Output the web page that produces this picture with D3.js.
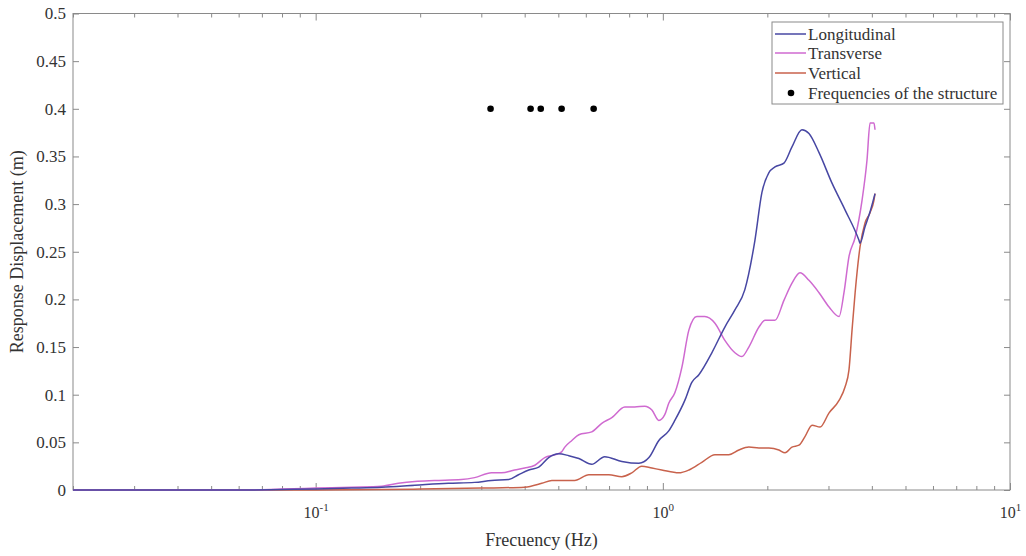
<!DOCTYPE html>
<html>
<head>
<meta charset="utf-8">
<script src="https://cdn.jsdelivr.net/npm/d3@7"></script>
<style>
  html, body { margin: 0; padding: 0; background: #fff; }
  svg text { font-family: "Liberation Serif", "Times New Roman", serif; fill: #333; }
</style>
</head>
<body>
<svg id="chart" width="1026" height="556"></svg>
<script>
// Frequency (Hz) sample points and response displacement (m) for each direction
const longFreq = [0.02, 0.06, 0.08, 0.1, 0.127, 0.155, 0.193, 0.241, 0.287, 0.321, 0.36, 0.384, 0.411, 0.439, 0.469, 0.501, 0.536, 0.573, 0.624, 0.68, 0.762, 0.853, 0.912, 0.974, 1.04, 1.083, 1.157, 1.212, 1.27, 1.384, 1.509, 1.613, 1.722, 1.842, 1.929, 2.021, 2.104, 2.233, 2.355, 2.516, 2.636, 2.818, 3.071, 3.348, 3.673, 3.698, 3.821, 3.953, 4.085];
const longVal  = [0, 0, 0.0005, 0.001, 0.002, 0.003, 0.005, 0.007, 0.008, 0.010, 0.011, 0.016, 0.021, 0.024, 0.034, 0.038, 0.036, 0.033, 0.027, 0.035, 0.030, 0.028, 0.034, 0.052, 0.062, 0.073, 0.094, 0.113, 0.121, 0.144, 0.171, 0.189, 0.21, 0.262, 0.312, 0.333, 0.339, 0.343, 0.36, 0.378, 0.374, 0.354, 0.322, 0.294, 0.262, 0.259, 0.276, 0.292, 0.311];

const transFreq = [0.02, 0.06, 0.08, 0.1, 0.127, 0.155, 0.173, 0.193, 0.22, 0.263, 0.287, 0.321, 0.343, 0.374, 0.40, 0.428, 0.457, 0.489, 0.511, 0.522, 0.547, 0.573, 0.624, 0.667, 0.713, 0.777, 0.83, 0.887, 0.93, 0.974, 1.013, 1.04, 1.083, 1.135, 1.189, 1.253, 1.321, 1.413, 1.509, 1.613, 1.689, 1.769, 1.892, 1.968, 2.104, 2.233, 2.355, 2.483, 2.636, 2.818, 3.012, 3.218, 3.325, 3.437, 3.58, 3.748, 3.873, 3.953, 4.056, 4.085];
const transVal  = [0, 0, 0.001, 0.002, 0.003, 0.004, 0.007, 0.009, 0.010, 0.011, 0.013, 0.018, 0.018, 0.021, 0.023, 0.026, 0.034, 0.037, 0.040, 0.045, 0.052, 0.058, 0.061, 0.070, 0.076, 0.087, 0.087, 0.088, 0.084, 0.073, 0.079, 0.091, 0.102, 0.129, 0.168, 0.182, 0.182, 0.175, 0.157, 0.144, 0.140, 0.150, 0.171, 0.178, 0.178, 0.199, 0.217, 0.228, 0.220, 0.207, 0.192, 0.182, 0.207, 0.245, 0.265, 0.304, 0.346, 0.385, 0.385, 0.378];

const vertFreq = [0.02, 0.1, 0.2, 0.3, 0.4, 0.448, 0.479, 0.511, 0.557, 0.612, 0.699, 0.762, 0.814, 0.869, 0.93, 0.993, 1.112, 1.189, 1.295, 1.413, 1.549, 1.656, 1.769, 1.892, 2.021, 2.159, 2.249, 2.355, 2.467, 2.567, 2.691, 2.837, 3.012, 3.218, 3.348, 3.437, 3.508, 3.58, 3.698, 3.821, 3.953, 4.056, 4.085];
const vertVal  = [0, 0, 0.001, 0.002, 0.003, 0.007, 0.010, 0.010, 0.010, 0.016, 0.016, 0.014, 0.018, 0.025, 0.023, 0.021, 0.018, 0.021, 0.029, 0.037, 0.037, 0.042, 0.045, 0.044, 0.044, 0.042, 0.039, 0.045, 0.047, 0.056, 0.068, 0.066, 0.081, 0.094, 0.108, 0.126, 0.168, 0.207, 0.255, 0.280, 0.291, 0.304, 0.311];

// Natural frequencies of the structure, marked at a fixed height
const structFreq = [0.319, 0.416, 0.445, 0.511, 0.632];
const structLevel = 0.4;

const seriesNames = ["Longitudinal", "Transverse", "Vertical"];
const markerName = "Frequencies of the structure";
const yTicks = [0, 0.05, 0.1, 0.15, 0.2, 0.25, 0.3, 0.35, 0.4, 0.45, 0.5];
const xDecades = [0.1, 1, 10];
const xDecadeExp = ["-1", "0", "1"];

const colors = ["#4747a3", "#cf6ad0", "#c8624c"];

const svg = d3.select("#chart");
const m = { left: 73, right: 1010, top: 13.5, bottom: 490 };

const x = d3.scaleLog().domain([0.02, 10]).range([m.left, m.right]);
const y = d3.scaleLinear().domain([0, 0.5]).range([m.bottom, m.top]);

const axisColor = "#8a8a8a";

// Minor log ticks (2..9 of each decade) inside the box
const minorTicks = [];
[0.01, 0.1, 1].forEach(d => {
  for (let k = 2; k <= 9; k++) {
    const v = +(d * k).toPrecision(3);
    if (v >= 0.02 && v < 10) minorTicks.push(v);
  }
});

function styleAxis(g) {
  g.select(".domain").remove();
  g.selectAll(".tick line").attr("stroke", axisColor);
}

// bottom / top minor ticks
svg.append("g").attr("transform", `translate(0,${m.bottom})`)
  .call(d3.axisBottom(x).tickValues(minorTicks).tickSize(-4).tickFormat(""))
  .call(styleAxis);
svg.append("g").attr("transform", `translate(0,${m.top})`)
  .call(d3.axisTop(x).tickValues(minorTicks).tickSize(-4).tickFormat(""))
  .call(styleAxis);

// bottom major ticks with labels 10^n
const xb = svg.append("g").attr("transform", `translate(0,${m.bottom})`)
  .call(d3.axisBottom(x).tickValues(xDecades).tickSize(-7).tickFormat(""))
  .call(styleAxis);
xb.selectAll(".tick").each(function(d, i) {
  const t = d3.select(this).append("text")
    .attr("y", 28)
    .attr("text-anchor", "middle")
    .style("font-size", "16px");
  t.append("tspan").text("10");
  t.append("tspan").attr("dy", -7).style("font-size", "11px").text(xDecadeExp[i]);
});
svg.append("g").attr("transform", `translate(0,${m.top})`)
  .call(d3.axisTop(x).tickValues(xDecades).tickSize(-7).tickFormat(""))
  .call(styleAxis);

// left / right y ticks
const yl = svg.append("g").attr("transform", `translate(${m.left},0)`)
  .call(d3.axisLeft(y).tickValues(yTicks).tickSize(-6).tickPadding(7).tickFormat(d => d3.format("")(d)))
  .call(styleAxis);
yl.selectAll(".tick text").style("font-size", "17px").attr("fill", "#333");
svg.append("g").attr("transform", `translate(${m.right},0)`)
  .call(d3.axisRight(y).tickValues(yTicks).tickSize(-6).tickFormat(""))
  .call(styleAxis);

// box
svg.append("rect")
  .attr("x", m.left).attr("y", m.top)
  .attr("width", m.right - m.left).attr("height", m.bottom - m.top)
  .attr("fill", "none").attr("stroke", axisColor).attr("stroke-width", 1);

// curves
const line = d3.line()
  .x(d => x(d[0]))
  .y(d => y(d[1]))
  .curve(d3.curveMonotoneX);

const series = [
  d3.zip(longFreq, longVal),
  d3.zip(transFreq, transVal),
  d3.zip(vertFreq, vertVal)
];

// draw vertical first, then transverse, then longitudinal on top
[2, 1, 0].forEach(i => {
  svg.append("path")
    .datum(series[i])
    .attr("d", line)
    .attr("fill", "none")
    .attr("stroke", colors[i])
    .attr("stroke-width", 1.5)
    .attr("stroke-linejoin", "round");
});

// structure frequencies
svg.append("g").selectAll("circle")
  .data(structFreq)
  .join("circle")
  .attr("cx", d => x(d))
  .attr("cy", y(structLevel))
  .attr("r", 3.3)
  .attr("fill", "#000");

// axis titles
svg.append("text")
  .attr("x", (m.left + m.right) / 2).attr("y", 546)
  .attr("text-anchor", "middle")
  .style("font-size", "18px")
  .text("Frecuency (Hz)");
svg.append("text")
  .attr("transform", `translate(23,${(m.top + m.bottom) / 2}) rotate(-90)`)
  .attr("text-anchor", "middle")
  .style("font-size", "18px")
  .text("Response Displacement (m)");

// legend
const lg = svg.append("g");
lg.append("rect")
  .attr("x", 772).attr("y", 22).attr("width", 231).attr("height", 82)
  .attr("fill", "#fff").attr("stroke", axisColor).attr("stroke-width", 1);
const rowY = [34, 53, 73, 93];
seriesNames.forEach((name, i) => {
  lg.append("line")
    .attr("x1", 775).attr("x2", 806)
    .attr("y1", rowY[i]).attr("y2", rowY[i])
    .attr("stroke", colors[i]).attr("stroke-width", 1.5);
  lg.append("text")
    .attr("x", 808).attr("y", rowY[i]).attr("dy", "0.35em")
    .style("font-size", "17px").text(name);
});
lg.append("circle").attr("cx", 791).attr("cy", rowY[3]).attr("r", 3.3).attr("fill", "#000");
lg.append("text")
  .attr("x", 808).attr("y", rowY[3]).attr("dy", "0.35em")
  .style("font-size", "17px").text(markerName);
</script>
</body>
</html>
